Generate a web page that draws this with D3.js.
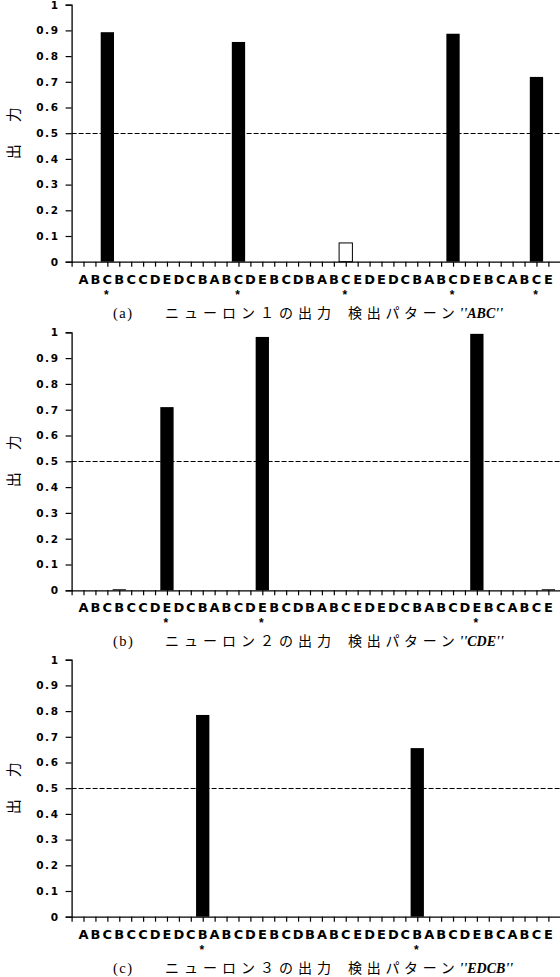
<!DOCTYPE html>
<html>
<head>
<meta charset="utf-8">
<script src="https://cdn.jsdelivr.net/npm/d3@7"></script>
<style>
  body { margin: 0; background: #fff; }
</style>
</head>
<body>
<div id="chart"></div>
<script>
// input sequence shown under each chart
const letters = ["A","B","C","B","C","C","D","E","D","C",
                 "B","A","B","C","D","E","B","C","D","B",
                 "A","B","C","E","D","E","D","C","B","A",
                 "B","C","D","E","B","C","A","B","C","E"];

// neuron outputs, one value per input letter
const neuron1 = [0,0,0.893,0,0,0,0,0,0,0,
                 0,0,0,0.855,0,0,0,0,0,0,
                 0,0,0.073,0,0,0,0,0,0,0,
                 0,0.887,0,0,0,0,0,0,0.719,0];
const neuron2 = [0,0,0,0.004,0,0,0,0.71,0,0,
                 0,0,0,0,0,0.982,0,0,0,0,
                 0,0,0,0,0,0,0,0,0,0,
                 0,0,0,0.994,0,0,0,0,0,0.004];
const neuron3 = [0,0,0,0,0,0,0,0,0,0,
                 0.785,0,0,0,0,0,0,0,0,0,
                 0,0,0,0,0,0,0,0,0.656,0,
                 0,0,0,0,0,0,0,0,0,0];

// positions (1-based) marked with * under the letters
const stars1 = [3, 14, 23, 32, 39];
const stars2 = [8, 16, 34];
const stars3 = [11, 29];

// bars drawn hollow
const hollow1 = [23];

const yTicks = [0, 0.1, 0.2, 0.3, 0.4, 0.5, 0.6, 0.7, 0.8, 0.9, 1];
const threshold = 0.5;

const panelTags = ["(a)", "(b)", "(c)"];
const neuronNames = ["ニューロン１の出力", "ニューロン２の出力", "ニューロン３の出力"];
const patterns = ["ABC", "CDE", "EDCB"];

const svg = d3.select("#chart")
    .append("svg")
    .attr("width", 560)
    .attr("height", 977);

// x scale: category i sits at i, the y axis at 0
const xScale = d3.scaleLinear().domain([0, letters.length + 1]).range([71.6, 560.3]);
const barWidth = 13.3;

const panels = [
    {values: neuron1, stars: stars1, hollow: hollow1, top: 4.7, bottom: 261.7},
    {values: neuron2, stars: stars2, hollow: [], top: 332.3, bottom: 590.3},
    {values: neuron3, stars: stars3, hollow: [], top: 659.7, bottom: 916.7}
];

panels.forEach(function (p, k) {
    const g = svg.append("g");
    const yScale = d3.scaleLinear().domain([0, 1]).range([p.bottom, p.top]);

    // threshold line
    g.append("line")
        .attr("x1", xScale(0))
        .attr("x2", 560)
        .attr("y1", Math.round(yScale(threshold)) + 0.5)
        .attr("y2", Math.round(yScale(threshold)) + 0.5)
        .attr("stroke", "#000")
        .attr("stroke-width", 1)
        .attr("stroke-dasharray", "5,2");

    // bars
    g.selectAll("rect.bar")
        .data(p.values.map((v, i) => ({v: v, i: i + 1})).filter(d => d.v > 0))
        .enter()
        .append("rect")
        .attr("class", "bar")
        .attr("x", d => xScale(d.i) - barWidth / 2)
        .attr("width", barWidth)
        .attr("y", d => yScale(d.v))
        .attr("height", d => Math.max(1, yScale(0) - yScale(d.v)))
        .attr("fill", d => p.hollow.includes(d.i) ? "#fff" : "#000")
        .attr("stroke", d => p.hollow.includes(d.i) ? "#000" : "none")
        .attr("stroke-width", 1);

    // y axis
    const yAxis = g.append("g")
        .attr("transform", "translate(" + xScale(0) + ",0)")
        .call(d3.axisLeft(yScale).tickValues(yTicks).tickSize(6).tickPadding(6)
            .tickFormat(d => d3.format("")(d)));
    yAxis.select(".domain").attr("stroke", "#000").attr("stroke-width", 1.3);
    yAxis.selectAll(".tick line").attr("stroke", "#000").attr("stroke-width", 1.2);
    yAxis.selectAll(".tick text")
        .attr("font-family", "'DejaVu Sans', sans-serif")
        .attr("font-weight", "bold")
        .attr("font-size", 10.5)
        .attr("letter-spacing", 1.6)
        .attr("fill", "#000");

    // x axis with a tick under every letter
    const xAxis = g.append("g")
        .attr("transform", "translate(0," + yScale(0) + ")")
        .call(d3.axisBottom(xScale).tickValues(d3.range(0, letters.length + 1)).tickSize(5)
            .tickSizeOuter(0).tickFormat(""));
    xAxis.select(".domain").attr("stroke", "#000").attr("stroke-width", 1.3);
    xAxis.selectAll(".tick line").attr("stroke", "#000").attr("stroke-width", 1.2);

    // letter labels (stretched a little, the original font is wide)
    g.selectAll("text.letter")
        .data(letters)
        .enter()
        .append("text")
        .attr("class", "letter")
        .attr("transform", (d, i) => "translate(" + xScale(i + 1) + "," + (yScale(0) + 22) + ") scale(1.13,1)")
        .attr("text-anchor", "middle")
        .attr("font-family", "'DejaVu Sans', sans-serif")
        .attr("font-weight", "bold")
        .attr("font-size", 11.5)
        .text(d => d);

    // stars under detected positions
    g.selectAll("text.star")
        .data(p.stars)
        .enter()
        .append("text")
        .attr("class", "star")
        .attr("x", d => xScale(d) - 1)
        .attr("y", yScale(0) + 37)
        .attr("text-anchor", "middle")
        .attr("font-family", "'Liberation Sans', Arial, sans-serif")
        .attr("font-weight", "bold")
        .attr("font-size", 12)
        .text("*");

    // y title
    g.append("text")
        .attr("transform", "translate(12," + (p.top + p.bottom) / 2 + ") rotate(-90)")
        .attr("text-anchor", "middle")
        .attr("dominant-baseline", "central")
        .attr("font-family", "'Noto Sans CJK JP', sans-serif")
        .attr("font-size", 15)
        .attr("letter-spacing", 22)
        .attr("dx", 11)
        .text("出力");

    // caption
    const cap = g.append("text")
        .attr("y", yScale(0) + 56)
        .attr("fill", "#000");
    cap.append("tspan")
        .attr("x", 113)
        .attr("font-family", "'Liberation Serif', serif")
        .attr("font-size", 14.5)
        .attr("letter-spacing", 1.5)
        .text(panelTags[k]);
    cap.append("tspan")
        .attr("x", 165)
        .attr("font-family", "'Noto Sans CJK JP', sans-serif")
        .attr("font-size", 14)
        .attr("letter-spacing", 5)
        .text(neuronNames[k]);
    cap.append("tspan")
        .attr("x", 348)
        .attr("font-family", "'Noto Sans CJK JP', sans-serif")
        .attr("font-size", 14)
        .attr("letter-spacing", 4.7)
        .text("検出パターン");
    cap.append("tspan")
        .attr("font-family", "'Liberation Serif', serif")
        .attr("font-style", "italic")
        .attr("font-weight", "bold")
        .attr("font-size", 14)
        .attr("letter-spacing", 0)
        .text("''" + patterns[k] + "''");
});
</script>
</body>
</html>
